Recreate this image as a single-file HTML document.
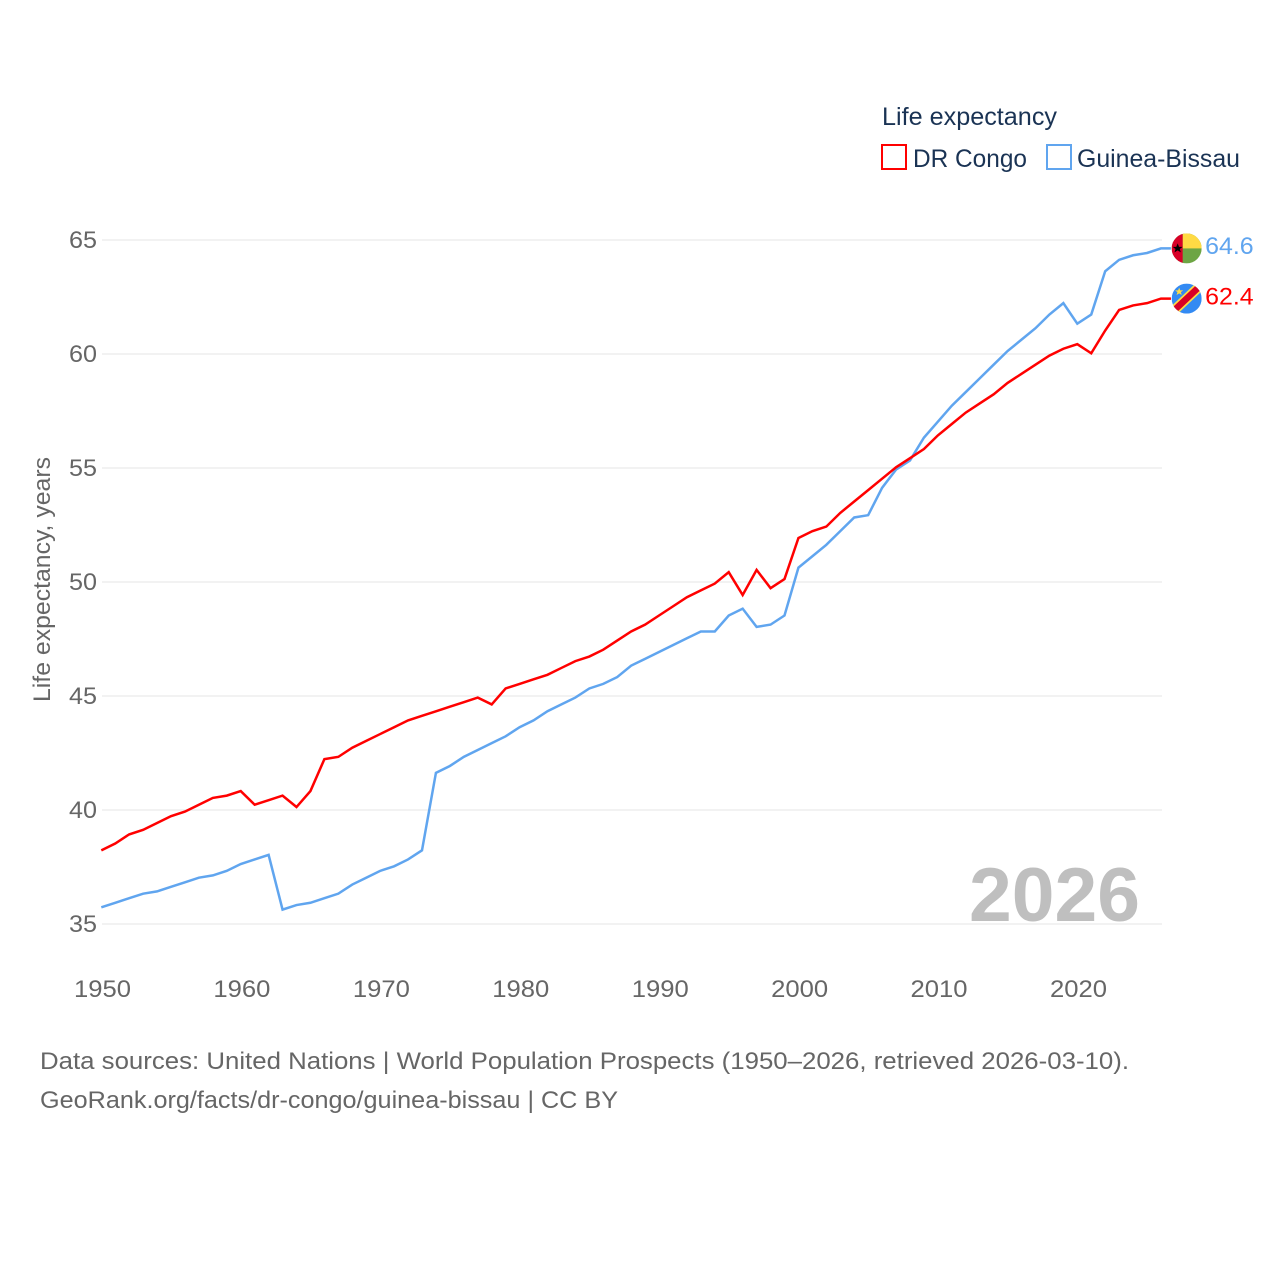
<!DOCTYPE html>
<html lang="en">
<head>
<meta charset="utf-8">
<title>Life expectancy: DR Congo vs Guinea-Bissau</title>
<style>
html,body{margin:0;padding:0;background:#fff;}
svg{display:block;}
text{font-family:"Liberation Sans",sans-serif;}
</style>
</head>
<body>
<svg id="chart" width="1280" height="1280" viewBox="0 0 1280 1280" xmlns="http://www.w3.org/2000/svg">
  <defs>
    <clipPath id="flag-clip"><circle cx="0" cy="0" r="15"/></clipPath>
  </defs>
  <rect x="0" y="0" width="1280" height="1280" fill="#fff"/>
  <g id="grid"></g>
  <g id="y-ticks"></g>
  <g id="x-ticks"></g>
  <text transform="translate(50,702) rotate(-90)" font-size="24" fill="#666" textLength="245" lengthAdjust="spacingAndGlyphs">Life expectancy, years</text>
  <text x="969" y="921" font-size="76" font-weight="bold" fill="#bfbfbf" textLength="171" lengthAdjust="spacingAndGlyphs">2026</text>
  <g id="series" transform="translate(-0.7,-0.7)"></g>

  <g id="flag-gw">
    <g clip-path="url(#flag-clip)">
      <rect x="-15" y="-15" width="30" height="30" fill="#6da544"/>
      <rect x="-4" y="-15" width="19" height="15" fill="#ffda44"/>
      <rect x="-15" y="-15" width="11" height="30" fill="#d80027"/>
      <polygon points="-9,-5 -7.6,-1.6 -4,-1.6 -6.9,0.6 -5.8,4 -9,2 -12.2,4 -11.1,0.6 -14,-1.6 -10.4,-1.6" fill="#000"/>
    </g>
  </g>
  <g id="flag-cd">
    <g clip-path="url(#flag-clip)">
      <rect x="-15" y="-15" width="30" height="30" fill="#338af3"/>
      <line x1="-17" y1="16" x2="17" y2="-16" stroke="#ffda44" stroke-width="10"/>
      <line x1="-17" y1="16" x2="17" y2="-16" stroke="#d80027" stroke-width="6.5"/>
      <polygon points="-7.5,-11 -6.4,-8.2 -3.4,-8.2 -5.8,-6.4 -4.9,-3.6 -7.5,-5.2 -10.1,-3.6 -9.2,-6.4 -11.6,-8.2 -8.6,-8.2" fill="#ffda44"/>
    </g>
  </g>
  <g id="end-labels"></g>

  <g>
    <text x="882" y="125" font-size="25" fill="#1a3354" textLength="175" lengthAdjust="spacingAndGlyphs">Life expectancy</text>
    <g>
      <rect x="882" y="145" width="24" height="24" fill="#fff" stroke="#ff0000" stroke-width="2"/>
      <text x="913" y="167" font-size="25" fill="#1a3354" textLength="114" lengthAdjust="spacingAndGlyphs">DR Congo</text>
    </g>
    <g>
      <rect x="1047" y="145" width="24" height="24" fill="#fff" stroke="#60a5ef" stroke-width="2"/>
      <text x="1077" y="167" font-size="25" fill="#1a3354" textLength="163" lengthAdjust="spacingAndGlyphs">Guinea-Bissau</text>
    </g>
  </g>

  <text x="40" y="1069" font-size="24.5" fill="#666" textLength="1089" lengthAdjust="spacingAndGlyphs">Data sources: United Nations | World Population Prospects (1950–2026, retrieved 2026-03-10).</text>
  <text x="40" y="1108" font-size="24.5" fill="#666" textLength="578" lengthAdjust="spacingAndGlyphs">GeoRank.org/facts/dr-congo/guinea-bissau | CC BY</text>
</svg>
<script>
var startYear = 1950;
var drCongo = [38.2,38.5,38.9,39.1,39.4,39.7,39.9,40.2,40.5,40.6,
  40.8,40.2,40.4,40.6,40.1,40.8,42.2,42.3,42.7,43.0,
  43.3,43.6,43.9,44.1,44.3,44.5,44.7,44.9,44.6,45.3,
  45.5,45.7,45.9,46.2,46.5,46.7,47.0,47.4,47.8,48.1,
  48.5,48.9,49.3,49.6,49.9,50.4,49.4,50.5,49.7,50.1,
  51.9,52.2,52.4,53.0,53.5,54.0,54.5,55.0,55.4,55.8,
  56.4,56.9,57.4,57.8,58.2,58.7,59.1,59.5,59.9,60.2,
  60.4,60.0,61.0,61.9,62.1,62.2,62.4];
var guineaBissau = [35.7,35.9,36.1,36.3,36.4,36.6,36.8,37.0,37.1,37.3,
  37.6,37.8,38.0,35.6,35.8,35.9,36.1,36.3,36.7,37.0,
  37.3,37.5,37.8,38.2,41.6,41.9,42.3,42.6,42.9,43.2,
  43.6,43.9,44.3,44.6,44.9,45.3,45.5,45.8,46.3,46.6,
  46.9,47.2,47.5,47.8,47.8,48.5,48.8,48.0,48.1,48.5,
  50.6,51.1,51.6,52.2,52.8,52.9,54.1,54.9,55.3,56.3,
  57.0,57.7,58.3,58.9,59.5,60.1,60.6,61.1,61.7,62.2,
  61.3,61.7,63.6,64.1,64.3,64.4,64.6];
var yTickValues = [35,40,45,50,55,60,65];
var xTickValues = [1950,1960,1970,1980,1990,2000,2010,2020];

var NS = 'http://www.w3.org/2000/svg';
function xScale(year){ return 102 + (year - 1950) * (1078 - 102) / 70; }
function yScale(v){ return 924 - (v - 35) * (924 - 240) / 30; }
function make(tag, parent, attrs, text){
  var el = document.createElementNS(NS, tag);
  for (var k in attrs) el.setAttribute(k, attrs[k]);
  if (text !== undefined) el.textContent = text;
  parent.appendChild(el);
  return el;
}

var gridG = document.getElementById('grid');
var yG = document.getElementById('y-ticks');
yTickValues.forEach(function(v){
  var line = make('line', gridG, {x1:102, x2:1162, y1:yScale(v), y2:yScale(v), stroke:'#eeeeee', 'stroke-width':1.5});
  
  
  var label = make('text', yG, {x:97, y:yScale(v)+8, 'text-anchor':'end', 'font-size':24, fill:'#666', textLength:28, lengthAdjust:'spacingAndGlyphs'}, String(v));
  
  
});

var xG = document.getElementById('x-ticks');
xTickValues.forEach(function(v){
  var label = make('text', xG, {x:xScale(v)-28, y:997, 'font-size':24, fill:'#666', textLength:57, lengthAdjust:'spacingAndGlyphs'}, String(v));
  
  
});

function drawSeries(values, color, name, flagId, labelId){
  var pts = values.map(function(v, i){ return xScale(startYear + i).toFixed(2) + ',' + yScale(v).toFixed(2); });
  var lastY = yScale(values[values.length - 1]);
  var lastX = xScale(startYear + values.length - 1);
  pts.push((lastX + 10).toFixed(2) + ',' + lastY.toFixed(2));
  var line = make('polyline', document.getElementById('series'), {points:pts.join(' '), fill:'none', stroke:color, 'stroke-width':2.5, 'stroke-linejoin':'miter'});
  
  
  document.getElementById(flagId).setAttribute('transform', 'translate(' + (lastX + 25) + ',' + (lastY - 0.7) + ')');
  var label = make('text', document.getElementById('end-labels'), {x:lastX + 43.5, y:lastY + 5, 'font-size':24, fill:color, textLength:48.5, lengthAdjust:'spacingAndGlyphs'}, values[values.length - 1].toFixed(1));
  
  
}
drawSeries(guineaBissau, '#60a5ef', 'line-guinea-bissau', 'flag-gw', 'end-label-guinea-bissau');
drawSeries(drCongo, '#ff0000', 'line-dr-congo', 'flag-cd', 'end-label-dr-congo');
</script>
</body>
</html>
